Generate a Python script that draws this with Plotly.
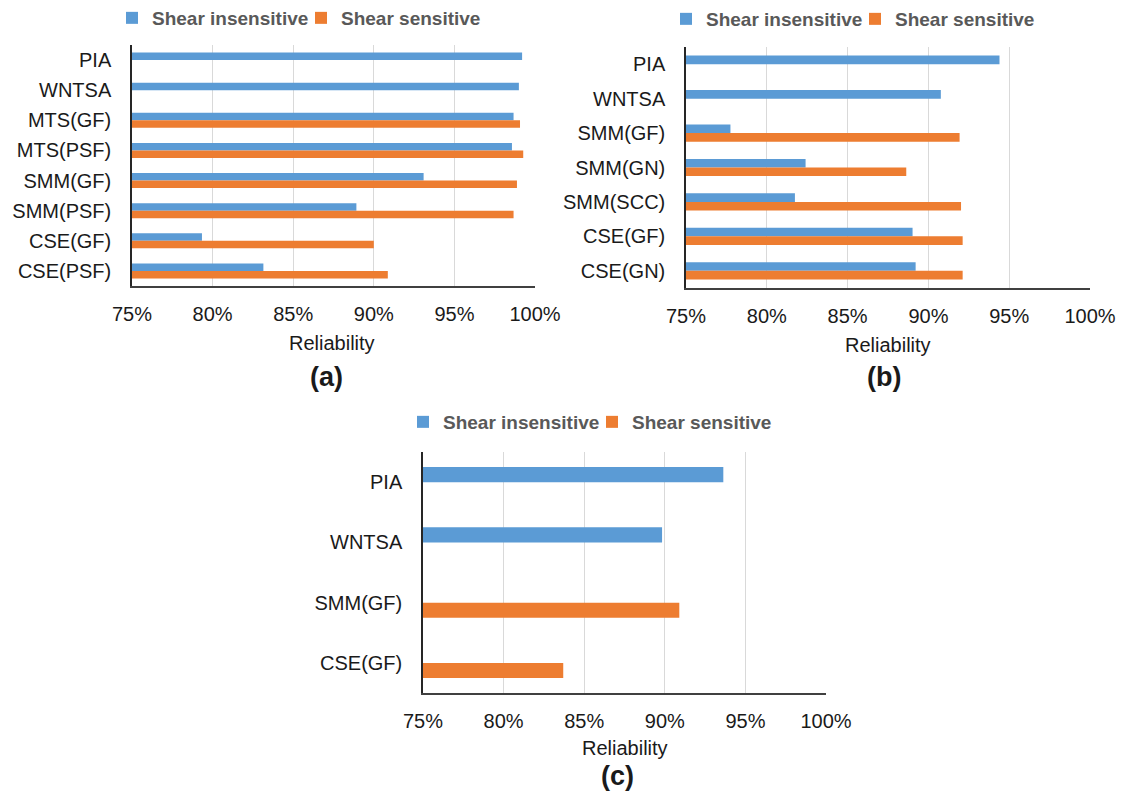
import plotly.graph_objects as go

# ---- data -------------------------------------------------------------
cats_a = ["PIA", "WNTSA", "MTS(GF)", "MTS(PSF)", "SMM(GF)", "SMM(PSF)", "CSE(GF)", "CSE(PSF)"]
insens_a = [0.992, 0.990, 0.9867, 0.9857, 0.9309, 0.8892, 0.7934, 0.8315]
sens_a = [None, None, 0.9907, 0.9927, 0.9888, 0.9867, 0.9000, 0.9087]

cats_b = ["PIA", "WNTSA", "SMM(GF)", "SMM(GN)", "SMM(SCC)", "CSE(GF)", "CSE(GN)"]
insens_b = [0.944, 0.9077, 0.7775, 0.8240, 0.8174, 0.8902, 0.8921]
sens_b = [None, None, 0.9193, 0.8863, 0.9202, 0.9212, 0.9212]

cats_c = ["PIA", "WNTSA", "SMM(GF)", "CSE(GF)"]
insens_c = [0.9363, 0.8983, None, None]
sens_c = [None, None, 0.9090, 0.8370]

tick_vals = [0.75, 0.80, 0.85, 0.90, 0.95, 1.00]
tick_text = ["75%", "80%", "85%", "90%", "95%", "100%"]

series_names = ["Shear insensitive", "Shear sensitive"]
panel_tags = ["(a)", "(b)", "(c)"]
axis_title = "Reliability"

# ---- styling ----------------------------------------------------------
W, H = 1121, 791
BLUE = "#5B9BD5"
ORANGE = "#ED7D31"
FONT = "Arial, Liberation Sans, sans-serif"


def px_x(x):
    return x / W


def px_y(y):
    return 1 - y / H


# plot boxes in pixels: (left, right, top, bottom)
boxes = [(132, 535, 45, 286), (686, 1090, 47, 288), (423, 826, 452, 693)]
panels = [
    (cats_a, insens_a, sens_a),
    (cats_b, insens_b, sens_b),
    (cats_c, insens_c, sens_c),
]
legend_pos = [(132, 18), (686, 19), (423, 422)]
title_pos = [(332, 343), (888, 345), (625, 748)]
tag_pos = [(326, 377), (884, 377), (617, 776)]

fig = go.Figure()
layout = dict(
    width=W,
    height=H,
    margin=dict(l=0, r=0, t=0, b=0, autoexpand=False),
    paper_bgcolor="white",
    plot_bgcolor="white",
    barmode="group",
    bargap=0.5,
    bargroupgap=0,
    font=dict(family=FONT, color="#1a1a1a"),
    annotations=[],
)

for i, ((cats, ins, sen), (l, r, t, b)) in enumerate(zip(panels, boxes)):
    sfx = "" if i == 0 else str(i + 1)
    xa, ya = "x" + sfx, "y" + sfx
    lg = "legend" + sfx
    fig.add_trace(go.Bar(y=cats, x=ins, orientation="h", name=series_names[0],
                         marker=dict(color=BLUE, line=dict(width=0)),
                         xaxis=xa, yaxis=ya, legend=lg))
    fig.add_trace(go.Bar(y=cats, x=sen, orientation="h", name=series_names[1],
                         marker=dict(color=ORANGE, line=dict(width=0)),
                         xaxis=xa, yaxis=ya, legend=lg))

    layout["xaxis" + sfx] = dict(
        domain=[px_x(l), px_x(r)], anchor=ya, range=[0.75, 1.0],
        tickvals=tick_vals, ticktext=tick_text,
        showgrid=True, gridcolor="#d9d9d9", gridwidth=1,
        showline=True, linecolor="#404040", linewidth=1.5,
        zeroline=False, ticks="", ticklabelstandoff=9, automargin=False,
        tickfont=dict(size=20, color="#1a1a1a"),
    )
    layout["yaxis" + sfx] = dict(
        domain=[px_y(b), px_y(t)], anchor=xa, type="category",
        categoryorder="array", categoryarray=cats, autorange="reversed",
        showgrid=False, showline=True, linecolor="#262626", linewidth=1.5,
        zeroline=False, ticks="", ticklabelstandoff=15, automargin=False,
        tickfont=dict(size=20, color="#1a1a1a"),
    )

    lx, ly = legend_pos[i]
    layout[lg] = dict(
        orientation="h", x=px_x(lx - 20), y=px_y(ly), xanchor="left", yanchor="middle",
        bgcolor="rgba(0,0,0,0)", borderwidth=0,
        font=dict(size=19, color="#595959", family=FONT, weight="bold"),
        entrywidth=144, entrywidthmode="pixels", itemclick=False, traceorder="normal",
    )

    tx, ty = title_pos[i]
    layout["annotations"].append(dict(
        text=axis_title, x=px_x(tx), y=px_y(ty), xref="paper", yref="paper",
        xanchor="center", yanchor="middle", showarrow=False,
        font=dict(size=20, color="#1a1a1a"),
    ))
    gx, gy = tag_pos[i]
    layout["annotations"].append(dict(
        text="<b>%s</b>" % panel_tags[i], x=px_x(gx), y=px_y(gy), xref="paper", yref="paper",
        xanchor="center", yanchor="middle", showarrow=False,
        font=dict(size=27, color="#1a1a1a"),
    ))

fig.update_layout(**layout)
fig.write_html("out.html")
